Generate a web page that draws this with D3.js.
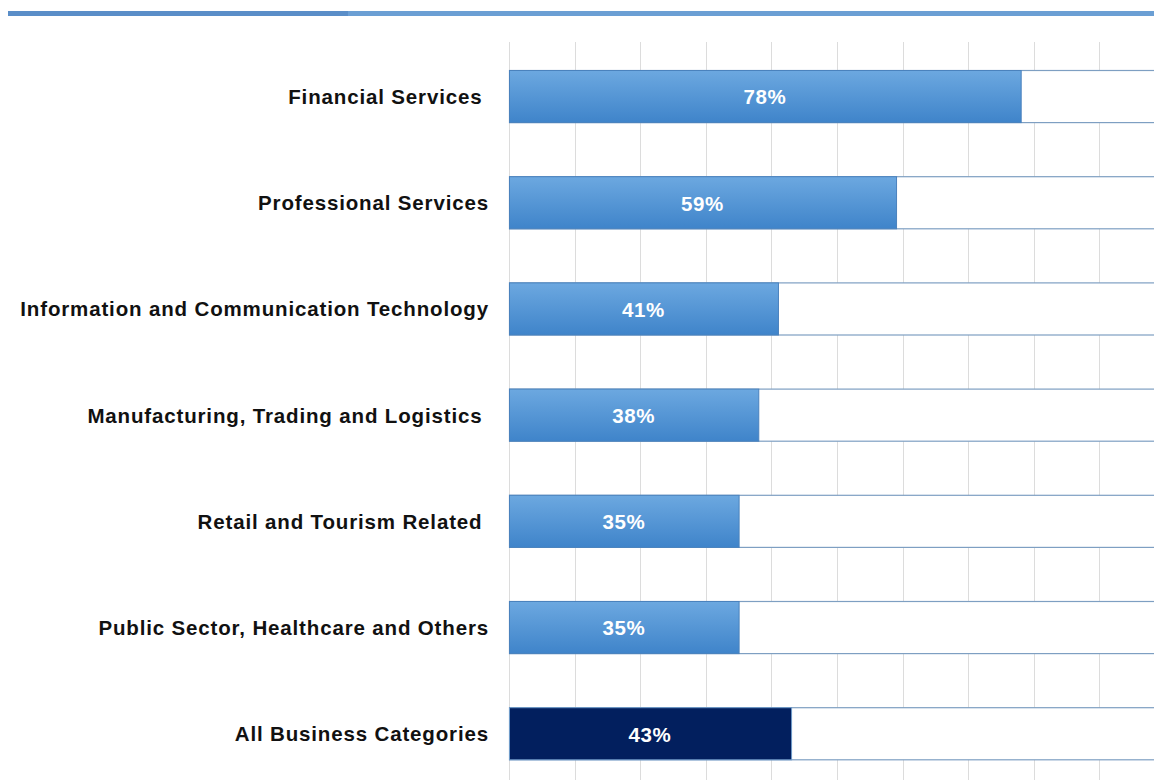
<!DOCTYPE html>
<html>
<head>
<meta charset="utf-8">
<script src="https://cdn.jsdelivr.net/npm/d3@7"></script>
<style>
  html, body { margin: 0; padding: 0; background: #ffffff; }
  svg { display: block; }
  text { font-family: "Liberation Sans", Arial, sans-serif; font-weight: bold; }
</style>
</head>
<body>
<svg id="chart" width="1154" height="780"></svg>
<script>
// Business categories (some labels carry a trailing space as in the source deck)
const categories = [
  "Financial Services ",
  "Professional Services",
  "Information and Communication Technology",
  "Manufacturing, Trading and Logistics ",
  "Retail and Tourism Related ",
  "Public Sector, Healthcare and Others",
  "All Business Categories"
];
// Share of firms, in percent
const values = [78, 59, 41, 38, 35, 35, 43];
// Row that summarises all categories gets the dark fill
const highlight = [false, false, false, false, false, false, true];
// Vertical gridlines every 10 percentage points
const gridTicks = d3.range(0, 101, 10);

const rows = categories.map((c, i) => ({ cat: c, value: values[i], total: highlight[i] }));

const W = 1154, H = 780;
const svg = d3.select("#chart");

const defs = svg.append("defs");
const grad = defs.append("linearGradient")
  .attr("id", "barGrad").attr("x1", 0).attr("y1", 0).attr("x2", 0).attr("y2", 1);
grad.append("stop").attr("offset", "0%").attr("stop-color", "#6ca8e0");
grad.append("stop").attr("offset", "100%").attr("stop-color", "#3f84ca");

// Header rule across the top
svg.append("rect").attr("x", 8).attr("y", 11).attr("width", 340).attr("height", 5).attr("fill", "#5a8ec8");
svg.append("rect").attr("x", 348).attr("y", 11).attr("width", W - 348).attr("height", 5).attr("fill", "#6b9fd4");

const x = d3.scaleLinear().domain([0, 100]).range([509, 1165]);
const y = d3.scaleBand()
  .domain(categories)
  .range([43.45, 43.45 + 7 * 106.2])
  .paddingInner(0.5)
  .paddingOuter(0.25);

// Gridlines
svg.append("g").selectAll("line")
  .data(gridTicks)
  .join("line")
  .attr("x1", d => Math.round(x(d)) + 0.5)
  .attr("x2", d => Math.round(x(d)) + 0.5)
  .attr("y1", 42).attr("y2", H)
  .attr("stroke", "#dcdcdc").attr("stroke-width", 1);

// Full-scale track behind each bar
svg.append("g").selectAll("rect")
  .data(rows)
  .join("rect")
  .attr("x", x(0) + 0.5)
  .attr("y", d => y(d.cat) + 0.5)
  .attr("width", x(100) - x(0))
  .attr("height", y.bandwidth() - 1)
  .attr("fill", "#ffffff")
  .attr("stroke", "#7e9fc2")
  .attr("stroke-width", 1.2);

// Value bars
svg.append("g").selectAll("rect")
  .data(rows)
  .join("rect")
  .attr("x", x(0) + 0.5)
  .attr("y", d => y(d.cat) + 0.5)
  .attr("width", d => x(d.value) - x(0))
  .attr("height", y.bandwidth() - 1)
  .attr("fill", d => d.total ? "#021f5e" : "url(#barGrad)")
  .attr("stroke", d => d.total ? "#6f9bc9" : "#4a82bd")
  .attr("stroke-width", 1);

// Value labels centred in each bar
svg.append("g").selectAll("text")
  .data(rows)
  .join("text")
  .attr("x", d => (x(0) + x(d.value)) / 2)
  .attr("y", d => y(d.cat) + y.bandwidth() / 2)
  .attr("dy", "0.38em")
  .attr("text-anchor", "middle")
  .attr("fill", "#ffffff")
  .attr("font-size", 20.5)
  .attr("letter-spacing", "0.6px")
  .text(d => d.value + "%");

// Category labels
svg.append("g").selectAll("text")
  .data(rows)
  .join("text")
  .attr("x", 489)
  .attr("y", d => y(d.cat) + y.bandwidth() / 2)
  .attr("dy", "0.36em")
  .attr("text-anchor", "end")
  .attr("fill", "#111111")
  .attr("font-size", 20.5)
  .attr("letter-spacing", "0.85px")
  .style("white-space", "pre")
  .text(d => d.cat);
</script>
</body>
</html>
